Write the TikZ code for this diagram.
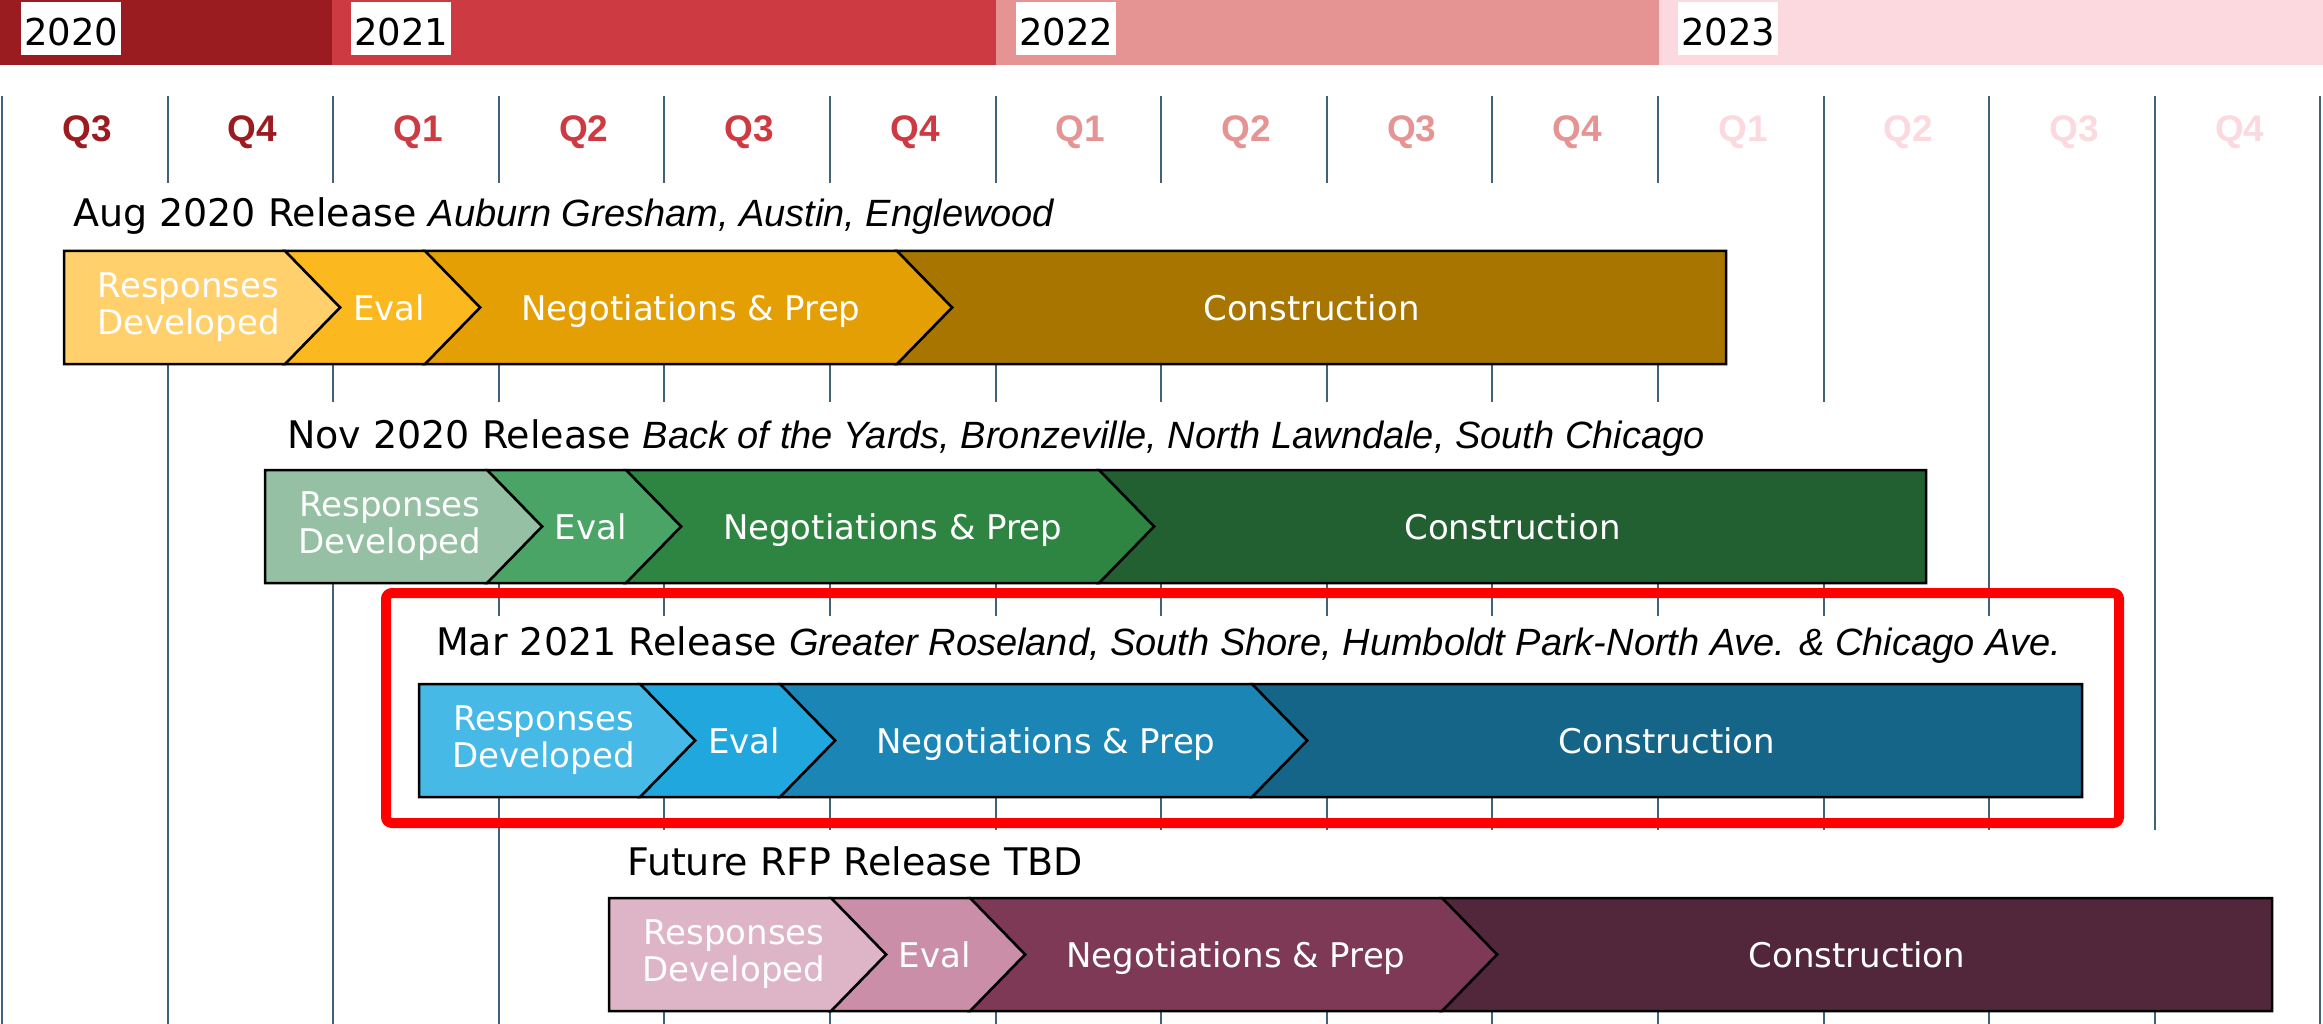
\documentclass[tikz,border=0pt]{standalone}
\usepackage{fontspec}
\setmainfont{DejaVu Sans}
\newfontfamily\arialfont{Liberation Sans}

\definecolor{yrA}{HTML}{9B1C20}
\definecolor{yrB}{HTML}{CD3A42}
\definecolor{yrC}{HTML}{E69394}
\definecolor{yrD}{HTML}{FCD9DE}
\definecolor{gridc}{HTML}{3F6479}
\definecolor{augA}{HTML}{FFD06B}
\definecolor{augB}{HTML}{FBB81F}
\definecolor{augC}{HTML}{E39F03}
\definecolor{augD}{HTML}{A87500}
\definecolor{novA}{HTML}{95C0A3}
\definecolor{novB}{HTML}{4AA466}
\definecolor{novC}{HTML}{2E8541}
\definecolor{novD}{HTML}{225F31}
\definecolor{marA}{HTML}{47B9E7}
\definecolor{marB}{HTML}{1FA7DE}
\definecolor{marC}{HTML}{1B86B5}
\definecolor{marD}{HTML}{146587}
\definecolor{futA}{HTML}{DEB5C7}
\definecolor{futB}{HTML}{CA8EA9}
\definecolor{futC}{HTML}{7D3955}
\definecolor{futD}{HTML}{52273B}

\begin{document}
\begin{tikzpicture}
[x=1pt,y=-1pt,
 yearbox/.style={fill=white,inner sep=0pt,minimum width=100pt,minimum height=53pt,text height=33pt,text depth=0pt,font=\fontsize{37}{40}\selectfont},
 qlabel/.style={anchor=base,inner sep=0pt,font=\arialfont\bfseries\fontsize{37}{40}\selectfont},
 reltitle/.style={anchor=base west,inner sep=0pt,font=\fontsize{38}{44}\selectfont},
 phase/.style={text=white,inner sep=0pt,text height=26pt,text depth=0pt,font=\fontsize{34}{37}\selectfont},
 twoline/.style={text=white,inner sep=0pt,align=center,font=\fontsize{34}{37}\selectfont},
 segment/.style={draw=black,line width=2.5pt,line join=miter}]
\useasboundingbox (0,0) rectangle (2323,1024);
% years
\fill[yrA] (0,0) rectangle (332,65);
\fill[yrB] (332,0) rectangle (996,65);
\fill[yrC] (996,0) rectangle (1659,65);
\fill[yrD] (1659,0) rectangle (2323,65);
\node[yearbox,anchor=north west] (y2020) at (21,2) {2020};
\node[yearbox,anchor=north west] (y2021) at (351,2) {2021};
\node[yearbox,anchor=north west] (y2022) at (1016,2) {2022};
\node[yearbox,anchor=north west] (y2023) at (1678,2) {2023};
% quarters
\foreach \k in {0,...,14}
  \draw[gridc,line width=2pt] (2+165.6*\k,96) -- (2+165.6*\k,1024);
\foreach \k/\q/\c in {0/Q3/yrA,1/Q4/yrA,2/Q1/yrB,3/Q2/yrB,4/Q3/yrB,5/Q4/yrB,6/Q1/yrC,
  7/Q2/yrC,8/Q3/yrC,9/Q4/yrC,10/Q1/yrD,11/Q2/yrD,12/Q3/yrD,13/Q4/yrD}
  \node[qlabel,text=\c] (q\k) at (87+165.6*\k,142) {\q};
% release rows
\foreach \id/\xa/\xb/\xc/\xd/\xe/\yt in {aug/64/285/425/897/1726/251,nov/265/487/626/1099/1926/470,
  mar/419/640/780/1252/2082/684,fut/609/831/970/1442/2272/898}{
  \fill[white] (\xa,\yt-68) rectangle (\xe,\yt);
  \filldraw[segment,fill=\id D] (\xd,\yt) -- (\xe,\yt) -- (\xe,\yt+113) -- (\xd,\yt+113) -- (\xd+55,\yt+56.5) -- cycle;
  \filldraw[segment,fill=\id C] (\xc,\yt) -- (\xd,\yt) -- (\xd+55,\yt+56.5) -- (\xd,\yt+113) -- (\xc,\yt+113) -- (\xc+55,\yt+56.5) -- cycle;
  \filldraw[segment,fill=\id B] (\xb,\yt) -- (\xc,\yt) -- (\xc+55,\yt+56.5) -- (\xc,\yt+113) -- (\xb,\yt+113) -- (\xb+55,\yt+56.5) -- cycle;
  \filldraw[segment,fill=\id A] (\xa,\yt) -- (\xb,\yt) -- (\xb+55,\yt+56.5) -- (\xb,\yt+113) -- (\xa,\yt+113) -- cycle;
  \node[twoline] (\id-resp) at ({(\xa+\xb)/2+14},{\yt+56.5}) {Responses\\Developed};
  \node[phase] (\id-eval) at ({(\xb+\xc)/2+34},{\yt+56.5}) {Eval};
  \node[phase] (\id-neg) at ({(\xc+\xd)/2+30},{\yt+56.5}) {Negotiations \& Prep};
  \node[phase] (\id-cons) at ({(\xd+\xe)/2},{\yt+56.5}) {Construction};
}
% titles
\node[reltitle] (aug-title) at (73,227) {Aug 2020 Release {\arialfont\itshape Auburn Gresham, Austin, Englewood}};
\node[reltitle] (nov-title) at (287,448) {Nov 2020 Release {\arialfont\itshape Back of the Yards, Bronzeville, North Lawndale, South Chicago}};
\node[reltitle] (mar-title) at (436,655) {Mar 2021 Release {\arialfont\itshape Greater Roseland, South Shore, Humboldt Park-North Ave. \& Chicago Ave.}};
\node[reltitle] (fut-title) at (627,875) {Future RFP Release TBD};
% highlight
\draw[red,line width=10pt,rounded corners=6pt] (386,593) rectangle (2119,823);
\end{tikzpicture}
\end{document}
